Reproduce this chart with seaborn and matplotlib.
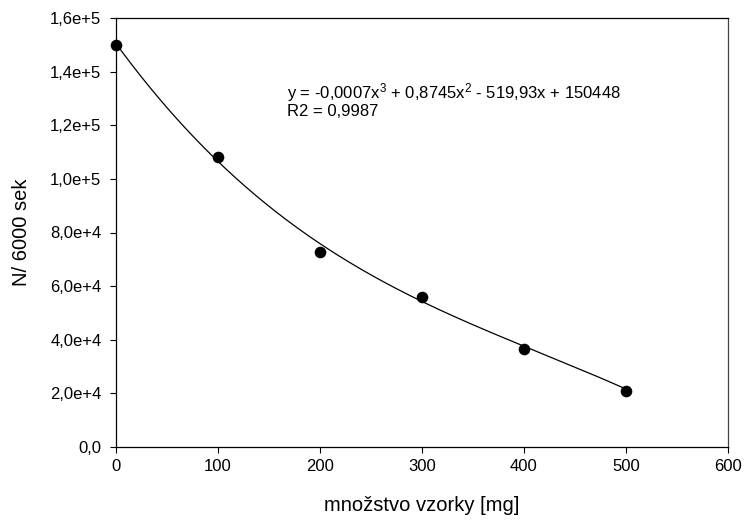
import numpy as np
import pandas as pd
import matplotlib
matplotlib.use("Agg")
import matplotlib.pyplot as plt
import seaborn as sns
from matplotlib.ticker import FixedLocator, FixedFormatter

# Data
mass_mg = [0, 100, 200, 300, 400, 500]
counts = [150000, 108300, 72900, 56100, 36700, 20900]
# Fit coefficients shown in the chart annotation (x^3, x^2, x, const)
fit_coeffs = [-0.0007, 0.8745, -519.93, 150448]
x_ticks = [0, 100, 200, 300, 400, 500, 600]
y_ticks = [0, 20000, 40000, 60000, 80000, 100000, 120000, 140000, 160000]
y_tick_labels = ["0,0", "2,0e+4", "4,0e+4", "6,0e+4", "8,0e+4",
                 "1,0e+5", "1,2e+5", "1,4e+5", "1,6e+5"]
x_label = "množstvo vzorky [mg]"
y_label = "N/ 6000 sek"
eq_text = "y = -0,0007x$^{3}$ + 0,8745x$^{2}$ - 519,93x + 150448"
r2_text = "R2 = 0,9987"

sns.set_style("ticks")
plt.rcParams['font.family'] = ['Liberation Sans', 'DejaVu Sans']
plt.rcParams['mathtext.fontset'] = 'custom'
plt.rcParams['mathtext.rm'] = 'Liberation Sans'
plt.rcParams['mathtext.it'] = 'Liberation Sans'
plt.rcParams['text.color'] = 'black'
plt.rcParams['axes.labelcolor'] = 'black'
plt.rcParams['xtick.color'] = 'black'
plt.rcParams['ytick.color'] = 'black'

fig = plt.figure(figsize=(7.46, 5.21), dpi=100)
ax = fig.add_axes([116/746, 1-447/521, (728-116)/746, (447-18)/521])

df = pd.DataFrame({"x": mass_mg, "y": counts})
xs = np.linspace(min(mass_mg), max(mass_mg), 300)
fit_df = pd.DataFrame({"x": xs, "y": np.polyval(fit_coeffs, xs)})

sns.lineplot(data=fit_df, x="x", y="y", ax=ax, color="black", linewidth=0.9)
sns.scatterplot(data=df, x="x", y="y", ax=ax, color="black", s=70,
                edgecolor="black", linewidth=0, zorder=3, clip_on=False)

ax.set_xlim(0, 600)
ax.set_ylim(0, 160000)
ax.xaxis.set_major_locator(FixedLocator(x_ticks))
ax.yaxis.set_major_locator(FixedLocator(y_ticks))
ax.yaxis.set_major_formatter(FixedFormatter(y_tick_labels))
ax.tick_params(axis="both", direction="out", length=4.5, width=0.8,
               labelsize=12, colors="black", labelcolor="black")
ax.tick_params(axis="y", pad=6)
ax.tick_params(axis="x", pad=4)
for sp in ax.spines.values():
    sp.set_visible(True)
    sp.set_linewidth(0.9)
    sp.set_color("black")
ax.spines["right"].set_color("#444444")
ax.set_xlabel(x_label, fontsize=14.5, labelpad=16, color="black")
ax.set_ylabel(y_label, fontsize=14.5, labelpad=14, color="black")

ax.text(0.2795, (447-98)/429, eq_text, transform=ax.transAxes, fontsize=12,
        va="baseline", ha="left", color="black")
ax.text(0.2795, (447-116)/429, r2_text, transform=ax.transAxes, fontsize=12,
        va="baseline", ha="left", color="black")

fig.savefig("out.png", dpi=100)
